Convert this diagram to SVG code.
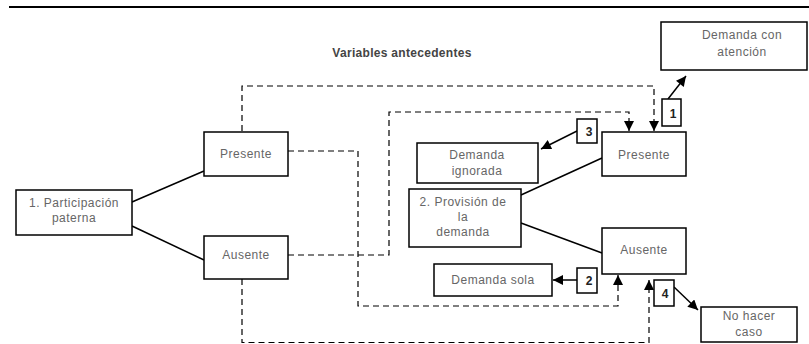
<svg xmlns="http://www.w3.org/2000/svg" width="809" height="344" viewBox="0 0 809 344">
<defs>
<marker id="ah" viewBox="0 0 10 10" refX="10" refY="5" markerWidth="11" markerHeight="10" markerUnits="userSpaceOnUse" orient="auto">
<path d="M0,0 L10,5 L0,10 Z" fill="#000"/>
</marker>
</defs>
<style>
.box{fill:#fff;stroke:#000;stroke-width:1.5}
.t{font-family:"Liberation Sans",Arial,sans-serif;font-size:12px;letter-spacing:0.5px;fill:#666;text-anchor:middle}
.n{font-family:"Liberation Sans",Arial,sans-serif;font-size:12px;font-weight:bold;fill:#222;text-anchor:middle}
.sl{fill:none;stroke:#000;stroke-width:1.5}
.dl{fill:none;stroke:#000;stroke-width:1.2;stroke-dasharray:6 4}
.ar{fill:none;stroke:#000;stroke-width:1.5;marker-end:url(#ah)}
.da{fill:none;stroke:#000;stroke-width:1.2;stroke-dasharray:6 4;marker-end:url(#ah)}
</style>
<rect width="809" height="344" fill="#fff"/>
<line x1="9" y1="7" x2="809" y2="7" stroke="#000" stroke-width="2"/>
<text x="402" y="57" class="t" style="font-weight:bold;fill:#444;letter-spacing:0.3px">Variables antecedentes</text>
<g id="connectors">
<line class="sl" x1="132" y1="202" x2="204" y2="171"/>
<line class="sl" x1="132" y1="226" x2="204" y2="260"/>
<line class="sl" x1="521" y1="195" x2="602" y2="158"/>
<line class="sl" x1="521" y1="223" x2="602" y2="253"/>
<path class="da" d="M242,131 V86 H654 V131"/>
<path class="da" d="M288,151 H358 V306 H618 V275"/>
<path class="da" d="M288,255 H389 V112 H629 V131"/>
<path class="da" d="M242,279 V342.5 H649 V280"/>
<line class="ar" x1="668" y1="99" x2="686" y2="76"/>
<line class="ar" x1="577" y1="131" x2="541" y2="149"/>
<line class="ar" x1="577" y1="280" x2="553" y2="280"/>
<line class="ar" x1="674" y1="287" x2="698" y2="310"/>
</g>
<g id="participacion"><rect class="box" x="16" y="190" width="116" height="45"/><text class="t" x="74" y="207">1. Participación</text><text class="t" x="74" y="222">paterna</text></g>
<g id="presente1"><rect class="box" x="204" y="132" width="84" height="44"/><text class="t" x="246" y="158">Presente</text></g>
<g id="ausente1"><rect class="box" x="204" y="236" width="84" height="43"/><text class="t" x="246" y="259">Ausente</text></g>
<g id="provision"><rect class="box" x="409" y="189" width="112" height="58"/><text class="t" x="463" y="206">2. Provisión de</text><text class="t" x="463" y="221">la</text><text class="t" x="463" y="236">demanda</text></g>
<g id="presente2"><rect class="box" x="602" y="132" width="84" height="44"/><text class="t" x="644" y="159">Presente</text></g>
<g id="ausente2"><rect class="box" x="602" y="228" width="84" height="46"/><text class="t" x="644" y="254">Ausente</text></g>
<g id="ignorada"><rect class="box" x="417" y="143" width="121" height="40"/><text class="t" x="477" y="159">Demanda</text><text class="t" x="477" y="175">ignorada</text></g>
<g id="sola"><rect class="box" x="434" y="264" width="118" height="32"/><text class="t" x="493" y="284">Demanda sola</text></g>
<g id="atencion"><rect class="box" x="661" y="22" width="146" height="48"/><text class="t" x="742" y="39">Demanda con</text><text class="t" x="742" y="56">atención</text></g>
<g id="nohacer"><rect class="box" x="701" y="307" width="96" height="35"/><text class="t" x="749" y="320">No hacer</text><text class="t" x="749" y="336">caso</text></g>
<g id="n1"><rect class="box" x="662" y="99" width="19" height="27"/><text class="n" x="673" y="118">1</text></g>
<g id="n3"><rect class="box" x="577" y="119" width="20" height="24"/><text class="n" x="589" y="136">3</text></g>
<g id="n2"><rect class="box" x="577" y="268" width="20" height="25"/><text class="n" x="589" y="285">2</text></g>
<g id="n4"><rect class="box" x="654" y="280" width="20" height="26"/><text class="n" x="665" y="298">4</text></g>
</svg>
